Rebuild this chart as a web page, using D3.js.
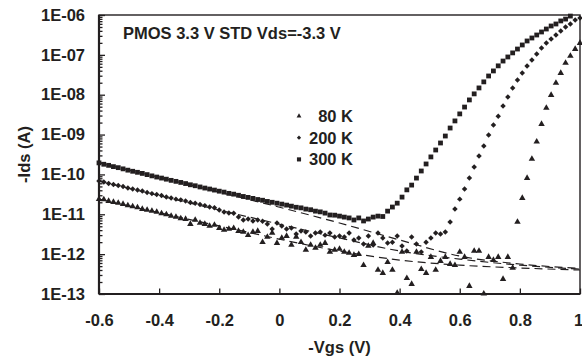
<!DOCTYPE html>
<html>
<head>
<meta charset="utf-8">
<script src="https://cdn.jsdelivr.net/npm/d3@7"></script>
<style>
    body { margin: 0; background: #fff; }
    svg { display: block; font-family: "Liberation Sans", Arial, sans-serif; font-weight: bold; }
</style>
</head>
<body>
<svg width="582" height="360"></svg>
<script>

var margin = { top: 15, right: 2, bottom: 66, left: 99 }
    , width = 582 - margin.left - margin.right
    , height = 360 - margin.top - margin.bottom;

var ink = "#231f20";
var fontSize = "16.5px";

// Gate sweep (V), one point every 16 mV
var vgs = [
    -0.6, -0.584, -0.568, -0.552, -0.536, -0.52, -0.504, -0.488, -0.472, -0.456,
    -0.44, -0.424, -0.408, -0.392, -0.376, -0.36, -0.344, -0.328, -0.312, -0.296,
    -0.28, -0.264, -0.248, -0.232, -0.216, -0.2, -0.184, -0.168, -0.152, -0.136,
    -0.12, -0.104, -0.088, -0.072, -0.056, -0.04, -0.024, -0.008, 0.008, 0.024,
    0.04, 0.056, 0.072, 0.088, 0.104, 0.12, 0.136, 0.152, 0.168, 0.184,
    0.2, 0.216, 0.232, 0.248, 0.264, 0.28, 0.296, 0.312, 0.328, 0.344,
    0.36, 0.376, 0.392, 0.408, 0.424, 0.44, 0.456, 0.472, 0.488, 0.504,
    0.52, 0.536, 0.552, 0.568, 0.584, 0.6, 0.616, 0.632, 0.648, 0.664,
    0.68, 0.696, 0.712, 0.728, 0.744, 0.76, 0.776, 0.792, 0.808, 0.824,
    0.84, 0.856, 0.872, 0.888, 0.904, 0.92, 0.936, 0.952, 0.968, 0.984,
    1.0
];

// -Ids (A) at 80 K
var id80 = [
    2.4e-11, 2.35e-11, 2.15e-11, 2.03e-11, 1.92e-11, 1.81e-11, 1.66e-11, 1.57e-11, 1.48e-11, 1.35e-11,
    1.28e-11, 1.21e-11, 1.15e-11, 1.05e-11, 9.9e-12, 9.1e-12, 8.6e-12, 7.85e-12, 7.6e-12, 5.7e-12,
    7.2e-12, 6.05e-12, 5.7e-12, 5.1e-12, 5.4e-12, 4.5e-12, 4.05e-12, 4.3e-12, 4.5e-12, 3.8e-12,
    3.6e-12, 3.0e-12, 3.6e-12, 3.8e-12, 2.0e-12, 2.7e-12, 3.4e-12, 1.9e-12, 2.55e-12, 2.85e-12,
    1.7e-12, 2.7e-12, 2.0e-12, 1.27e-12, 1.7e-12, 1.43e-12, 1.7e-12, 1.9e-12, 1.14e-12, 1.27e-12,
    1.35e-12, 1.14e-12, 1.07e-12, 9.5e-13, 1.0e-12, 5.3e-13, 1.6e-12, 1.9e-12, 4.0e-13, 3.35e-13,
    6.3e-13, 4.0e-13, 1.06e-13, 1.14e-12, 2.5e-13, 1.78e-13, 1.14e-12, 4.2e-13, 3.35e-13, 8.45e-13,
    4.0e-13, 6.7e-13, 8.45e-13, 5.65e-13, 5.3e-13, 1.14e-12, 8.45e-13, 1.58e-13, 1.2e-12, 1.2e-12,
    1.02e-13, 8.45e-13, 7.1e-13, 8.45e-13, 2.37e-13, 8.45e-13, 4.5e-13, 6.4e-12, 2.55e-11, 8.1e-11,
    2.45e-10, 6.6e-10, 1.84e-9, 4.65e-9, 9.8e-9, 1.97e-8, 3.5e-8, 6.25e-8, 9.4e-8, 1.4e-7,
    1.98e-7
];

// -Ids (A) at 200 K
var id200 = [
    6.8e-11, 6.45e-11, 5.9e-11, 5.6e-11, 5.25e-11, 5.0e-11, 4.55e-11, 4.3e-11, 4.05e-11, 3.85e-11,
    3.5e-11, 3.3e-11, 3.15e-11, 2.95e-11, 2.7e-11, 2.55e-11, 2.4e-11, 2.3e-11, 2.15e-11, 1.97e-11,
    1.9e-11, 1.75e-11, 1.65e-11, 1.52e-11, 1.45e-11, 1.28e-11, 1.14e-11, 1.08e-11, 1.06e-11, 8.55e-12,
    7.2e-12, 7.6e-12, 6.8e-12, 7.2e-12, 6.7e-12, 5.7e-12, 4.3e-12, 6.05e-12, 5.1e-12, 4.3e-12,
    4.5e-12, 3.2e-12, 3.8e-12, 3.6e-12, 2.85e-12, 3.4e-12, 3.6e-12, 3.0e-12, 3.4e-12, 2.7e-12,
    2.85e-12, 2.7e-12, 3.4e-12, 2.27e-12, 2.55e-12, 1.8e-12, 2.85e-12, 1.7e-12, 3.4e-12, 2.55e-12,
    1.9e-12, 2.0e-12, 2.85e-12, 1.6e-12, 1.2e-12, 2.7e-12, 1.8e-12, 1.14e-12, 2.0e-12, 2.55e-12,
    3.4e-12, 3.2e-12, 3.6e-12, 6.4e-12, 1.35e-11, 2.4e-11, 4.3e-11, 8.1e-11, 1.54e-10, 2.9e-10,
    5.2e-10, 9.8e-10, 1.74e-9, 2.9e-9, 5.2e-9, 8.8e-9, 1.48e-8, 2.35e-8, 3.5e-8, 5.25e-8,
    7.45e-8, 1.05e-7, 1.49e-7, 1.98e-7, 2.5e-7, 3.15e-7, 3.97e-7, 5.0e-7, 5.94e-7, 7.5e-7,
    8.4e-7
];

// -Ids (A) at 300 K
var id300 = [
    1.95e-10, 1.80e-10, 1.69e-10, 1.57e-10, 1.48e-10, 1.38e-10, 1.28e-10, 1.20e-10, 1.13e-10, 1.06e-10,
    9.9e-11, 9.2e-11, 8.6e-11, 8.1e-11, 7.6e-11, 7.1e-11, 6.7e-11, 6.3e-11, 5.9e-11, 5.5e-11,
    5.2e-11, 4.85e-11, 4.55e-11, 4.3e-11, 4.05e-11, 3.8e-11, 3.6e-11, 3.35e-11, 3.2e-11, 3.0e-11,
    2.8e-11, 2.65e-11, 2.5e-11, 2.35e-11, 2.25e-11, 2.1e-11, 2.0e-11, 1.9e-11, 1.8e-11, 1.7e-11,
    1.6e-11, 1.5e-11, 1.45e-11, 1.35e-11, 1.3e-11, 1.2e-11, 1.15e-11, 1.07e-11, 9.6e-12, 9.5e-12,
    9.0e-12, 8.5e-12, 8.1e-12, 7.2e-12, 8.1e-12, 6.8e-12, 7.6e-12, 8.5e-12, 9.0e-12, 8.8e-12,
    1.2e-11, 1.52e-11, 1.9e-11, 2.7e-11, 4.1e-11, 5.4e-11, 8.1e-11, 1.22e-10, 1.83e-10, 2.75e-10,
    4.1e-10, 6.15e-10, 9.2e-10, 1.46e-9, 2.2e-9, 3.3e-9, 4.9e-9, 7.4e-9, 1.05e-8, 1.48e-8,
    2.1e-8, 2.95e-8, 3.95e-8, 5.3e-8, 7.0e-8, 8.85e-8, 1.12e-7, 1.4e-7, 1.77e-7, 2.23e-7,
    2.65e-7, 3.15e-7, 3.75e-7, 4.45e-7, 5.3e-7, 5.95e-7, 7.1e-7, 7.9e-7, 9.4e-7, 1.05e-6,
    1.1e-6
];

// dashed leakage fits
var fitVgs = [-0.6, -0.2, 0.2, 0.4, 0.6, 0.8, 1.0];
var fit300 = [1.95e-10, 3.6e-11, 6.05e-12, 2.27e-12, 8.95e-13, 5.65e-13, 4.4e-13];
var fit200 = [6.8e-11, 1.28e-11, 2.55e-12, 1.2e-12, 7.5e-13, 5.3e-13, 4.2e-13];
var fit80 = [2.4e-11, 5.1e-12, 1.2e-12, 7.1e-13, 5.3e-13, 4.5e-13, 4.0e-13];

// axis ticks
var xTicks = [-0.6, -0.4, -0.2, 0, 0.2, 0.4, 0.6, 0.8, 1.0];
var xTickLabels = ["-0.6", "-0.4", "-0.2", "0", "0.2", "0.4", "0.6", "0.8", "1"];
var yTicks = [1e-13, 1e-12, 1e-11, 1e-10, 1e-9, 1e-8, 1e-7, 1e-6];
var yTickLabels = ["1E-13", "1E-12", "1E-11", "1E-10", "1E-09", "1E-08", "1E-07", "1E-06"];

var legendLabels = ["80 K", "200 K", "300 K"];

var x = d3.scaleLinear().domain([-0.6, 1.0]).range([0, width]);
var y = d3.scaleLog().domain([1e-13, 1e-6]).range([height, 0]);

var svg = d3.select("svg")
    .append("g")
    .attr("transform", "translate(" + margin.left + "," + margin.top + ")");

function styleAxis(g) {
    g.attr("font-family", null).attr("font-size", null);
    g.selectAll("text").attr("fill", ink).style("font-size", fontSize);
    g.selectAll("line").attr("stroke", ink).attr("stroke-width", 1.3);
    g.select(".domain").remove();
}

// minor ticks on the log axis (2..9 in each decade)
var minorTicks = [];
yTicks.slice(0, -1).forEach(function (d) {
    for (var k = 2; k <= 9; k++) minorTicks.push(d * k);
});

svg.append("g")
    .call(d3.axisLeft(y).tickValues(minorTicks).tickSize(-3.5).tickFormat(""))
    .call(styleAxis);

svg.append("g")
    .attr("class", "y-axis")
    .call(d3.axisLeft(y)
        .tickValues(yTicks)
        .tickSize(-6)
        .tickSizeOuter(0)
        .tickPadding(14)
        .tickFormat(function (d, i) { return yTickLabels[i]; }))
    .call(styleAxis);

svg.append("g")
    .attr("class", "x-axis")
    .attr("transform", "translate(0," + height + ")")
    .call(d3.axisBottom(x)
        .tickValues(xTicks)
        .tickSize(-5.5)
        .tickSizeOuter(0)
        .tickPadding(20)
        .tickFormat(function (d, i) { return xTickLabels[i]; }))
    .call(styleAxis);

// the "1" sits on the right edge of the picture; nudge it inside
svg.select(".x-axis").selectAll(".tick text")
    .filter(function (d) { return d === 1.0; })
    .attr("dx", "-2");

// plot frame + heavier axis lines
svg.append("rect")
    .attr("width", width)
    .attr("height", height)
    .attr("fill", "none")
    .attr("stroke", ink)
    .attr("stroke-width", 1.4);

svg.append("line")
    .attr("x1", 0).attr("x2", 0).attr("y1", 0).attr("y2", height)
    .attr("stroke", ink).attr("stroke-width", 2.2);
svg.append("line")
    .attr("x1", 0).attr("x2", width).attr("y1", height).attr("y2", height)
    .attr("stroke", ink).attr("stroke-width", 2.2);

// dashed fits
var fitLine = d3.line()
    .x(function (d) { return x(d[0]); })
    .y(function (d) { return y(d[1]); })
    .curve(d3.curveMonotoneX);

[fit300, fit200, fit80].forEach(function (fit) {
    svg.append("path")
        .datum(fitVgs.map(function (v, i) { return [v, fit[i]]; }))
        .attr("d", fitLine)
        .attr("fill", "none")
        .attr("stroke", ink)
        .attr("stroke-width", 1.2)
        .attr("stroke-dasharray", "8,5");
});

// markers
var series = [
    { values: id80, symbol: d3.symbolTriangle, size: 18, rotate: 0 },
    { values: id200, symbol: d3.symbolSquare, size: 15, rotate: 45 },
    { values: id300, symbol: d3.symbolSquare, size: 23, rotate: 0 }
];

series.forEach(function (s) {
    var pts = vgs.map(function (v, i) { return [v, s.values[i]]; })
        .filter(function (d) { return d[1] >= 1e-13 && d[1] <= 1e-6; });
    svg.append("g")
        .selectAll("path")
        .data(pts)
        .enter()
        .append("path")
        .attr("d", d3.symbol().type(s.symbol).size(s.size))
        .attr("transform", function (d) {
            return "translate(" + x(d[0]) + "," + y(d[1]) + ") rotate(" + s.rotate + ")";
        })
        .attr("fill", ink);
});

// title
svg.append("text")
    .attr("x", 123 - margin.left)
    .attr("y", 38.5 - margin.top)
    .attr("fill", ink)
    .style("font-size", fontSize)
    .text("PMOS 3.3 V STD Vds=-3.3 V");

// legend
var legend = svg.append("g")
    .attr("transform", "translate(" + (299 - margin.left) + "," + (116 - margin.top) + ")");

var legendSymbols = [
    { symbol: d3.symbolTriangle, size: 10, rotate: 0 },
    { symbol: d3.symbolSquare, size: 9, rotate: 45 },
    { symbol: d3.symbolSquare, size: 17, rotate: 0 }
];

legendLabels.forEach(function (label, i) {
    var row = legend.append("g").attr("transform", "translate(0," + (i * 21.7) + ")");
    row.append("path")
        .attr("d", d3.symbol().type(legendSymbols[i].symbol).size(legendSymbols[i].size))
        .attr("transform", "rotate(" + legendSymbols[i].rotate + ")")
        .attr("fill", ink);
    row.append("text")
        .attr("x", 54)
        .attr("y", 5.9)
        .attr("text-anchor", "end")
        .attr("fill", ink)
        .style("font-size", fontSize)
        .text(label);
});

// axis titles
svg.append("text")
    .attr("x", width / 2)
    .attr("y", 353 - margin.top)
    .attr("text-anchor", "middle")
    .attr("fill", ink)
    .style("font-size", fontSize)
    .text("-Vgs (V)");

svg.append("text")
    .attr("transform", "translate(" + (30 - margin.left) + "," + (height / 2) + ") rotate(-90)")
    .attr("text-anchor", "middle")
    .attr("fill", ink)
    .style("font-size", fontSize)
    .text("-Ids (A)");

</script>
</body>
</html>
